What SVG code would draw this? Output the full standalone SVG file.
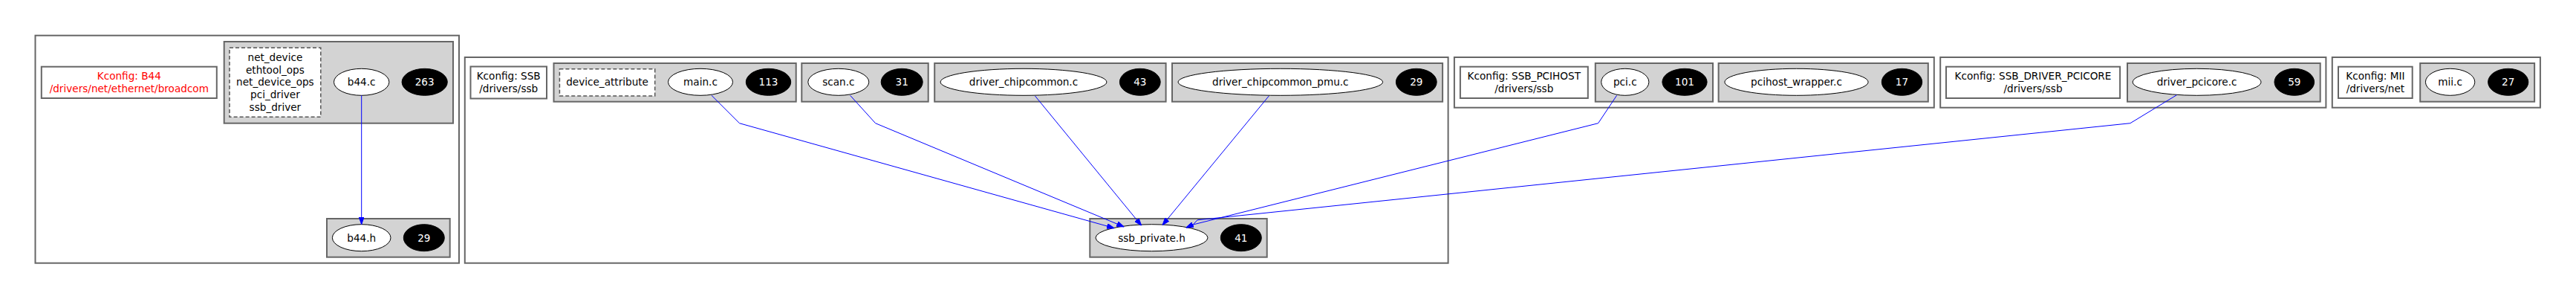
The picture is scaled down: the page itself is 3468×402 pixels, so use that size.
<svg xmlns="http://www.w3.org/2000/svg" width="3468" height="402" viewBox="0 0 3468 402">
<style>
.cl{fill:#fff;stroke:#666;stroke-width:2}
.gr{fill:#d3d3d3;stroke:#666;stroke-width:2}
.kc{fill:#fff;stroke:#666;stroke-width:2}
.ds{fill:#fff;stroke:#555;stroke-width:1.5;stroke-dasharray:5,3}
.fe{fill:#fff;stroke:#000;stroke-width:1}
.cnt{fill:#000;stroke:#000;stroke-width:1}
text{font-family:"DejaVu Sans","Liberation Sans",sans-serif;font-size:13.6px;text-anchor:middle;dominant-baseline:central;fill:#000}
text.w{fill:#fff}
text.red{fill:#f00}
.edge{fill:none;stroke:#00f;stroke-width:1;marker-end:url(#ah)}
</style>
<defs>
<marker id="ah" markerUnits="userSpaceOnUse" markerWidth="10" markerHeight="7" refX="10" refY="3.5" orient="auto">
<path d="M0,0 L10,3.5 L0,7 z" fill="#00f" stroke="#00f" stroke-width="1"/>
</marker>
</defs>
<rect width="3468" height="402" fill="#fff"/>

<g id="cluster_b44">
<rect class="cl" x="47.5" y="47.7" width="570.5" height="306"/>
<g id="kconfig_b44">
<rect class="kc" x="55.8" y="89.7" width="236" height="42.3"/>
<text class="red" x="173.8" y="102.3">Kconfig: B44</text>
<text class="red" x="173.8" y="119.3">/drivers/net/ethernet/broadcom</text>
</g>
<g id="file_b44_c">
<rect class="gr" x="301.7" y="56" width="308.3" height="109.7"/>
<rect class="ds" x="309" y="64.3" width="122.8" height="93"/>
<text x="370.4" y="76.7">net_device</text>
<text x="370.4" y="93.5">ethtool_ops</text>
<text x="370.4" y="110.3">net_device_ops</text>
<text x="370.4" y="127.1">pci_driver</text>
<text x="370.4" y="143.9">ssb_driver</text>
<ellipse class="fe" cx="486.7" cy="110.3" rx="37.2" ry="18"/>
<text x="486.7" y="110.3">b44.c</text>
<ellipse class="cnt" cx="571.7" cy="110.3" rx="30.6" ry="18"/>
<text class="w" x="571.7" y="110.3">263</text>
</g>
<g id="file_b44_h">
<rect class="gr" x="440" y="294" width="165.7" height="51.7"/>
<ellipse class="fe" cx="486.7" cy="319.7" rx="39.3" ry="18"/>
<text x="486.7" y="319.7">b44.h</text>
<ellipse class="cnt" cx="570.8" cy="319.7" rx="27.5" ry="18"/>
<text class="w" x="570.8" y="319.7">29</text>
</g>
</g>

<g id="cluster_ssb">
<rect class="cl" x="625.8" y="77" width="1323.8" height="276.7"/>
<g id="kconfig_ssb">
<rect class="kc" x="633.5" y="89.5" width="102.5" height="43"/>
<text x="684.7" y="102.3">Kconfig: SSB</text>
<text x="684.7" y="119.3">/drivers/ssb</text>
</g>
<g id="file_main_c">
<rect class="gr" x="745.5" y="85" width="326.2" height="51.7"/>
<rect class="ds" x="753.4" y="92.8" width="128.3" height="36.2"/>
<text x="817.6" y="110.3">device_attribute</text>
<ellipse class="fe" cx="943" cy="110.3" rx="43.5" ry="18"/>
<text x="943" y="110.3">main.c</text>
<ellipse class="cnt" cx="1034.5" cy="110.3" rx="30.2" ry="18"/>
<text class="w" x="1034.5" y="110.3">113</text>
</g>
<g id="file_scan_c">
<rect class="gr" x="1079.3" y="85" width="170.4" height="51.7"/>
<ellipse class="fe" cx="1128.8" cy="110.3" rx="41" ry="18"/>
<text x="1128.8" y="110.3">scan.c</text>
<ellipse class="cnt" cx="1214.2" cy="110.3" rx="28" ry="18"/>
<text class="w" x="1214.2" y="110.3">31</text>
</g>
<g id="file_driver_chipcommon_c">
<rect class="gr" x="1258.2" y="85" width="311.4" height="51.7"/>
<ellipse class="fe" cx="1378" cy="110.3" rx="111.9" ry="18"/>
<text x="1378" y="110.3">driver_chipcommon.c</text>
<ellipse class="cnt" cx="1534.8" cy="110.3" rx="27.4" ry="18"/>
<text class="w" x="1534.8" y="110.3">43</text>
</g>
<g id="file_driver_chipcommon_pmu_c">
<rect class="gr" x="1578" y="85" width="364.1" height="51.7"/>
<ellipse class="fe" cx="1723.8" cy="110.3" rx="137.8" ry="18"/>
<text x="1723.8" y="110.3">driver_chipcommon_pmu.c</text>
<ellipse class="cnt" cx="1906.8" cy="110.3" rx="27.4" ry="18"/>
<text class="w" x="1906.8" y="110.3">29</text>
</g>
<g id="file_ssb_private_h">
<rect class="gr" x="1467.3" y="294" width="238.4" height="51.7"/>
<ellipse class="fe" cx="1550.5" cy="319.7" rx="75.5" ry="18"/>
<text x="1550.5" y="319.7">ssb_private.h</text>
<ellipse class="cnt" cx="1670.8" cy="319.7" rx="27.5" ry="18"/>
<text class="w" x="1670.8" y="319.7">41</text>
</g>
</g>

<g id="cluster_ssb_pcihost">
<rect class="cl" x="1957.9" y="77" width="645.9" height="67.7"/>
<g id="kconfig_ssb_pcihost">
<rect class="kc" x="1965.9" y="89.7" width="171.9" height="42.3"/>
<text x="2051.8" y="102.3">Kconfig: SSB_PCIHOST</text>
<text x="2051.8" y="119.3">/drivers/ssb</text>
</g>
<g id="file_pci_c">
<rect class="gr" x="2147.8" y="85" width="158.2" height="51.7"/>
<ellipse class="fe" cx="2187.8" cy="110.3" rx="32.1" ry="18"/>
<text x="2187.8" y="110.3">pci.c</text>
<ellipse class="cnt" cx="2268" cy="110.3" rx="30.1" ry="18"/>
<text class="w" x="2268" y="110.3">101</text>
</g>
<g id="file_pcihost_wrapper_c">
<rect class="gr" x="2313.6" y="85" width="282.2" height="51.7"/>
<ellipse class="fe" cx="2418.5" cy="110.3" rx="96.6" ry="18"/>
<text x="2418.5" y="110.3">pcihost_wrapper.c</text>
<ellipse class="cnt" cx="2560.5" cy="110.3" rx="27.2" ry="18"/>
<text class="w" x="2560.5" y="110.3">17</text>
</g>
</g>

<g id="cluster_ssb_driver_pcicore">
<rect class="cl" x="2612.2" y="77" width="519.2" height="67.7"/>
<g id="kconfig_ssb_driver_pcicore">
<rect class="kc" x="2620" y="89.7" width="234.1" height="42.3"/>
<text x="2737" y="102.3">Kconfig: SSB_DRIVER_PCICORE</text>
<text x="2737" y="119.3">/drivers/ssb</text>
</g>
<g id="file_driver_pcicore_c">
<rect class="gr" x="2864" y="85" width="259.7" height="51.7"/>
<ellipse class="fe" cx="2957.6" cy="110.3" rx="86.4" ry="18"/>
<text x="2957.6" y="110.3">driver_pcicore.c</text>
<ellipse class="cnt" cx="3088.8" cy="110.3" rx="26.8" ry="18"/>
<text class="w" x="3088.8" y="110.3">59</text>
</g>
</g>

<g id="cluster_mii">
<rect class="cl" x="3139.8" y="77" width="280.1" height="67.7"/>
<g id="kconfig_mii">
<rect class="kc" x="3148" y="89.7" width="99.7" height="42.3"/>
<text x="3197.9" y="102.3">Kconfig: MII</text>
<text x="3197.9" y="119.3">/drivers/net</text>
</g>
<g id="file_mii_c">
<rect class="gr" x="3258.2" y="85" width="153.9" height="51.7"/>
<ellipse class="fe" cx="3298.6" cy="110.3" rx="33.2" ry="18"/>
<text x="3298.6" y="110.3">mii.c</text>
<ellipse class="cnt" cx="3376.7" cy="110.3" rx="27.1" ry="18"/>
<text class="w" x="3376.7" y="110.3">27</text>
</g>
</g>

<g id="connectors">
<path class="edge" d="M486.7,128.3 L486.7,301.7"/>
<path class="edge" d="M958,128.3 L995.5,165.7 L1500,306.7"/>
<path class="edge" d="M1144.6,128.3 L1178.6,165.7 L1513.3,305"/>
<path class="edge" d="M1393.5,129 L1536.7,303.3"/>
<path class="edge" d="M1708.3,129 L1565,302.7"/>
<path class="edge" d="M2176.6,128.3 L2151.6,165.7 L1606.2,302 L1597,306"/>
<path class="edge" d="M2930.5,127.7 L2867.9,165.7 L1612,295.8 L1606.2,302 L1597,306"/>
</g>
</svg>
